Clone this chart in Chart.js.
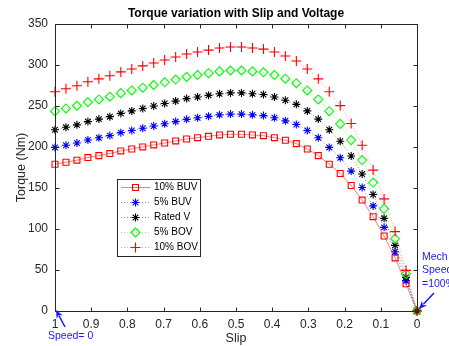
<!DOCTYPE html>
<html><head><meta charset="utf-8">
<script src="https://cdn.jsdelivr.net/npm/chart.js@4/dist/chart.umd.min.js"></script>
<style>html,body{margin:0;padding:0;background:#fff}#wrap{width:449px;height:346px}</style>
</head><body><div id="wrap"><canvas id="c" width="449" height="346"></canvas></div>
<script>
// Slip values (x axis), from 1 down to 0
const slip = [1, 0.9697, 0.9394, 0.9091, 0.8788, 0.8485, 0.8182, 0.7879, 0.7576, 0.7273,
  0.6970, 0.6667, 0.6364, 0.6061, 0.5758, 0.5455, 0.5152, 0.4848, 0.4545, 0.4242,
  0.3939, 0.3636, 0.3333, 0.3030, 0.2727, 0.2424, 0.2121, 0.1818, 0.1515, 0.1212,
  0.0909, 0.0606, 0.0303, 0];

// Torque (Nm)
const buv10 = [179.0, 181.4, 183.9, 187.1, 189.5, 192.0, 195.2, 197.6, 200.1, 202.5,
  204.9, 207.4, 209.8, 211.4, 213.0, 214.7, 215.5, 215.5, 214.7, 213.8,
  211.4, 208.2, 204.1, 197.6, 189.5, 179.0, 167.7, 153.1, 135.3, 115.0,
  91.5, 64.8, 33.2, 0];
const buv5 = [199.5, 202.2, 204.9, 208.5, 211.2, 213.9, 217.5, 220.2, 222.9, 225.6,
  228.3, 231.0, 233.7, 235.6, 237.4, 239.2, 240.1, 240.1, 239.2, 238.3,
  235.6, 231.9, 227.4, 220.2, 211.2, 199.5, 186.8, 170.6, 150.7, 128.2,
  102.0, 72.2, 37.0, 0];
const ratedV = [221, 224, 227, 231, 234, 237, 241, 244, 247, 250,
  253, 256, 259, 261, 263, 265, 266, 266, 265, 264,
  261, 257, 252, 244, 234, 221, 207, 189, 167, 142,
  113, 80, 41, 0];
const bov5 = [243.7, 247.0, 250.3, 254.7, 258.0, 261.3, 265.7, 269.0, 272.3, 275.6,
  278.9, 282.2, 285.5, 287.8, 290.0, 292.2, 293.3, 293.3, 292.2, 291.1,
  287.8, 283.3, 277.8, 269.0, 258.0, 243.7, 228.2, 208.4, 184.1, 156.6,
  124.6, 88.2, 45.2, 0];
const bov10 = [267.4, 271.0, 274.7, 279.5, 283.1, 286.8, 291.6, 295.2, 298.9, 302.5,
  306.1, 309.8, 313.4, 315.8, 318.2, 320.7, 321.9, 321.9, 320.7, 319.4,
  315.8, 311.0, 304.9, 295.2, 283.1, 267.4, 250.5, 228.7, 202.1, 171.8,
  136.7, 96.8, 49.6, 0];

const seriesLabels = ['10% BUV', '5% BUV', 'Rated V', '5% BOV', '10% BOV'];
const seriesValues = [buv10, buv5, ratedV, bov5, bov10];
const titleText = 'Torque variation with Slip and Voltage';
const xTitle = 'Slip';
const yTitle = 'Torque (Nm)';
const note0 = 'Speed= 0';
const note1 = ['Mech', 'Speed', '=100%'];

const FONT = "'Liberation Sans', Arial, Helvetica, sans-serif";
const styles = [
  {color: 'rgb(255,0,0)', line: 'rgba(255,0,0,0.75)', point: 'rect', r: 4.2, dash: [], bw: 0.7},
  {color: 'rgb(0,0,255)', line: 'rgba(0,0,255,0.6)', point: 'star', r: 4, dash: [1, 2], bw: 0.8},
  {color: 'rgb(0,0,0)', line: 'rgba(0,0,0,0.55)', point: 'star', r: 4, dash: [1, 2], bw: 0.8},
  {color: 'rgb(0,255,0)', line: 'rgba(0,230,0,0.6)', point: 'rectRot', r: 4.5, dash: [1, 2], bw: 0.8},
  {color: 'rgb(255,0,0)', line: 'rgba(255,0,0,0.5)', point: 'cross', r: 5, dash: [1, 2], bw: 0.8}
];

const datasets = seriesValues.map((vals, i) => ({
  label: seriesLabels[i],
  data: slip.map((s, k) => ({x: s, y: vals[k]})),
  borderColor: styles[i].line,
  backgroundColor: 'rgba(0,0,0,0)',
  borderWidth: styles[i].bw,
  borderDash: styles[i].dash,
  pointStyle: styles[i].point,
  pointRadius: styles[i].r,
  pointBorderColor: styles[i].color,
  pointBackgroundColor: 'rgba(0,0,0,0)',
  pointBorderWidth: 1.1,
  tension: 0,
  clip: false,
  order: 4 - i
}));

function drawMarker(ctx, style, r, x, y) {
  ctx.beginPath();
  if (style === 'rect') {
    const s = r / Math.SQRT2;
    ctx.rect(x - s, y - s, 2 * s, 2 * s);
  } else if (style === 'rectRot') {
    ctx.moveTo(x, y - r); ctx.lineTo(x + r, y); ctx.lineTo(x, y + r); ctx.lineTo(x - r, y); ctx.closePath();
  } else if (style === 'cross') {
    ctx.moveTo(x - r, y); ctx.lineTo(x + r, y); ctx.moveTo(x, y - r); ctx.lineTo(x, y + r);
  } else if (style === 'star') {
    ctx.moveTo(x - r, y); ctx.lineTo(x + r, y); ctx.moveTo(x, y - r); ctx.lineTo(x, y + r);
    const d = r * Math.SQRT1_2;
    ctx.moveTo(x - d, y - d); ctx.lineTo(x + d, y + d); ctx.moveTo(x - d, y + d); ctx.lineTo(x + d, y - d);
  }
  ctx.stroke();
}

function arrow(ctx, x1, y1, x2, y2, color) {
  const ang = Math.atan2(y2 - y1, x2 - x1);
  const hl = 8, hw = 3.5;
  ctx.strokeStyle = color; ctx.fillStyle = color; ctx.lineWidth = 1.5;
  ctx.beginPath();
  ctx.moveTo(x1, y1);
  ctx.lineTo(x2 - Math.cos(ang) * hl * 0.8, y2 - Math.sin(ang) * hl * 0.8);
  ctx.stroke();
  ctx.beginPath();
  ctx.moveTo(x2, y2);
  ctx.lineTo(x2 - Math.cos(ang) * hl + Math.sin(ang) * hw, y2 - Math.sin(ang) * hl - Math.cos(ang) * hw);
  ctx.lineTo(x2 - Math.cos(ang) * hl * 0.7, y2 - Math.sin(ang) * hl * 0.7);
  ctx.lineTo(x2 - Math.cos(ang) * hl - Math.sin(ang) * hw, y2 - Math.sin(ang) * hl + Math.cos(ang) * hw);
  ctx.closePath();
  ctx.fill();
}

const framePlugin = {
  id: 'frame',
  afterDraw(chart) {
    const {ctx, chartArea: a, scales: {x, y}} = chart;
    ctx.save();
    const L = Math.round(a.left) + 0.5, R = Math.round(a.right) + 0.5;
    const T = Math.round(a.top) + 0.5, B = Math.round(a.bottom) + 0.5;
    ctx.strokeStyle = '#262626'; ctx.lineWidth = 1; ctx.setLineDash([]);
    ctx.strokeRect(L, T, R - L, B - T);
    const tl = 4;
    ctx.beginPath();
    x.ticks.forEach(t => {
      const px = Math.round(x.getPixelForValue(t.value)) + 0.5;
      ctx.moveTo(px, B); ctx.lineTo(px, B - tl);
      ctx.moveTo(px, T); ctx.lineTo(px, T + tl);
    });
    y.ticks.forEach(t => {
      const py = Math.round(y.getPixelForValue(t.value)) + 0.5;
      ctx.moveTo(L, py); ctx.lineTo(L + tl, py);
      ctx.moveTo(R, py); ctx.lineTo(R - tl, py);
    });
    ctx.stroke();

    // legend
    const lx = 117.5, ly = 179.5, lw = 83, lh = 77;
    ctx.fillStyle = '#fff';
    ctx.fillRect(lx, ly, lw, lh);
    ctx.strokeStyle = '#262626';
    ctx.strokeRect(lx, ly, lw, lh);
    ctx.font = '10px ' + FONT;
    ctx.textBaseline = 'middle';
    ctx.textAlign = 'left';
    seriesLabels.forEach((lab, i) => {
      const yy = 187.5 + 15 * i;
      const st = styles[i];
      ctx.strokeStyle = st.line; ctx.lineWidth = st.bw; ctx.setLineDash(st.dash);
      ctx.beginPath(); ctx.moveTo(121, yy); ctx.lineTo(150, yy); ctx.stroke();
      ctx.setLineDash([]); ctx.lineWidth = 1.1; ctx.strokeStyle = st.color;
      drawMarker(ctx, st.point, st.r, 135.5, yy);
      ctx.fillStyle = '#000';
      ctx.fillText(lab, 154, yy);
    });

    // annotations
    const blue = 'rgb(25,25,255)';
    const p0x = x.getPixelForValue(1), p0y = y.getPixelForValue(0);
    const p1x = x.getPixelForValue(0), p1y = y.getPixelForValue(0);
    arrow(ctx, p0x + 10, p0y + 16, p0x + 1, p0y - 1, blue);
    arrow(ctx, p1x + 17, p1y - 18, p1x + 2, p1y - 2, blue);
    ctx.fillStyle = blue;
    ctx.font = '10.5px ' + FONT;
    ctx.textAlign = 'left';
    ctx.fillText(note0, p0x - 7, p0y + 25);
    note1.forEach((t, i) => ctx.fillText(t, p1x + 5, p1y - 54 + 13.5 * i));
    ctx.restore();
  }
};

new Chart(document.getElementById('c'), {
  type: 'line',
  data: {datasets},
  options: {
    responsive: false,
    animation: false,
    devicePixelRatio: 1,
    layout: {padding: {left: 0, right: 32, top: 0, bottom: 0}},
    plugins: {
      legend: {display: false},
      tooltip: {enabled: false},
      title: {
        display: true, text: titleText, fullSize: false, color: '#000',
        font: {family: FONT, size: 12, weight: 'bold', lineHeight: 1.2},
        padding: {top: 6, bottom: 3.6}
      }
    },
    scales: {
      x: {
        type: 'linear', reverse: true, min: 0, max: 1,
        ticks: {stepSize: 0.1, color: '#262626', font: {family: FONT, size: 12}, padding: 6, maxRotation: 0, autoSkip: false,
          callback: v => String(Number(v.toFixed(2)))},
        grid: {display: false, drawTicks: false},
        border: {display: false},
        title: {display: true, text: xTitle, color: '#262626', font: {family: FONT, size: 12.5, lineHeight: 1.2}, padding: {top: 0, bottom: 0}},
        afterFit: s => { s.height = 35; }
      },
      y: {
        min: 0, max: 350,
        ticks: {stepSize: 50, color: '#262626', font: {family: FONT, size: 12}, padding: 7},
        grid: {display: false, drawTicks: false},
        border: {display: false},
        title: {display: true, text: yTitle, color: '#262626', font: {family: FONT, size: 12.5, lineHeight: 1.2}, padding: {top: 14, bottom: 0}},
        afterFit: s => { s.width = 55; }
      }
    }
  },
  plugins: [framePlugin]
});
</script>
</body></html>
